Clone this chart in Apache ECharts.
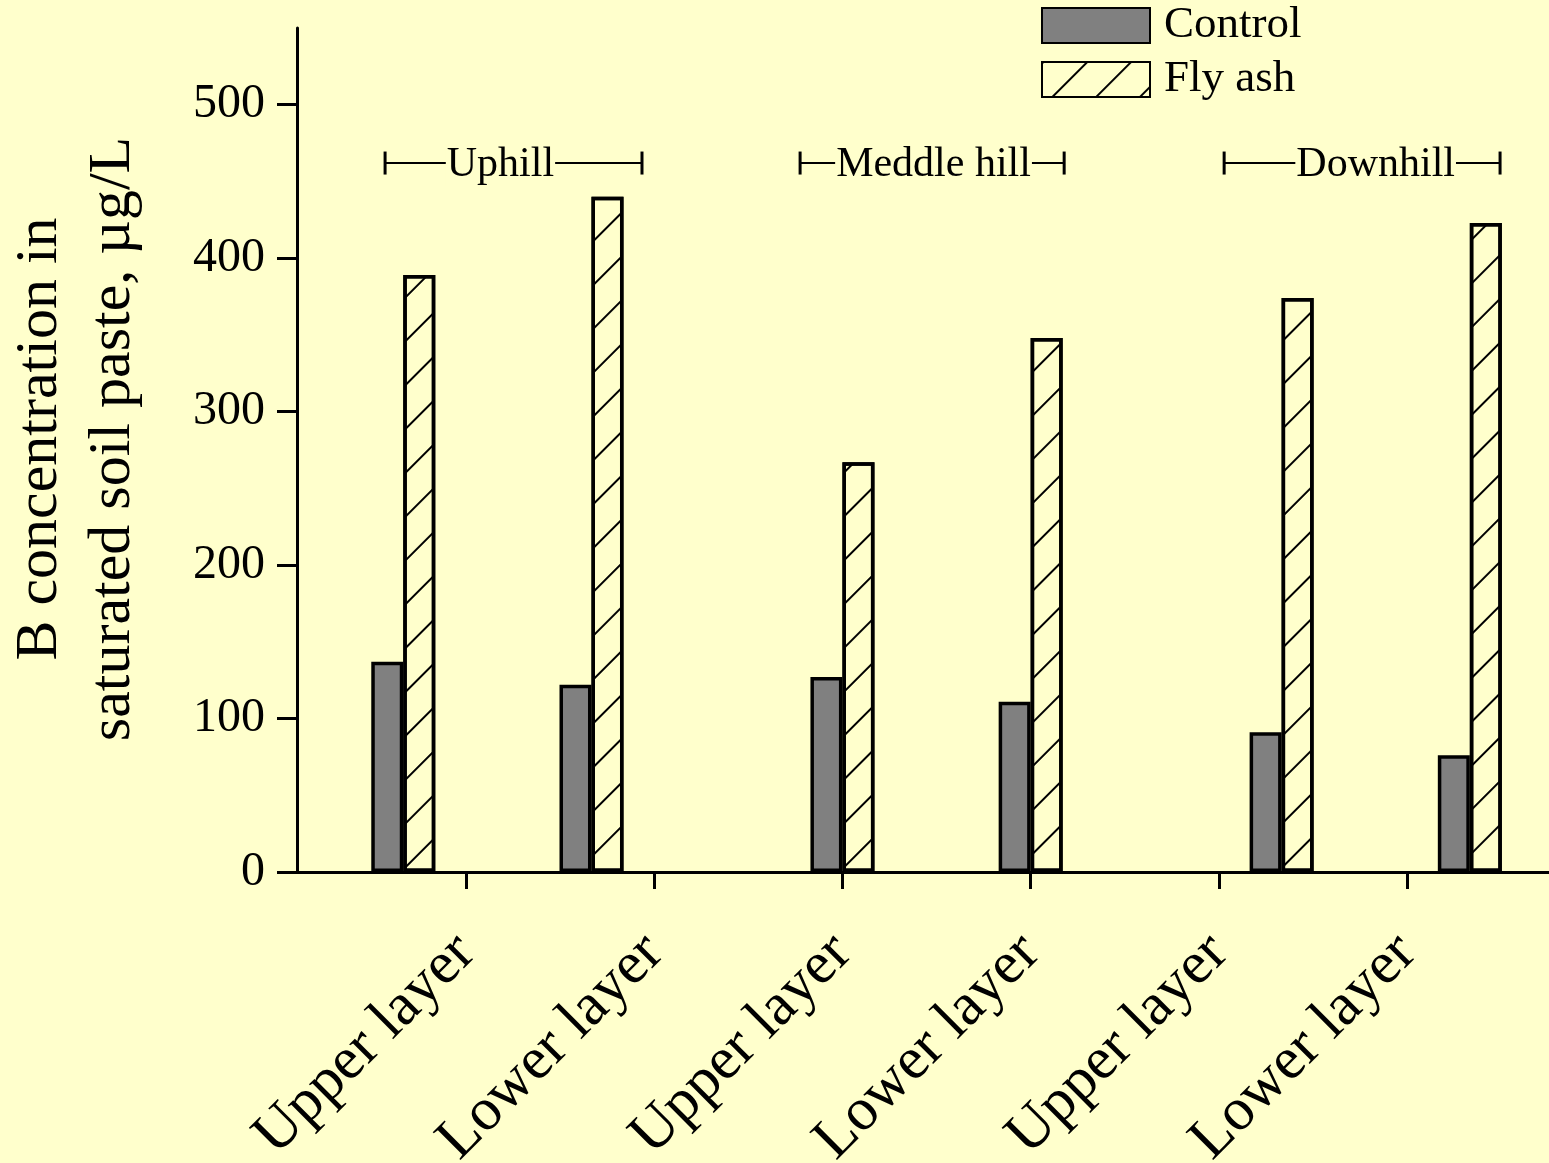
<!DOCTYPE html>
<html><head><meta charset="utf-8">
<script src="https://cdn.jsdelivr.net/npm/echarts@6/dist/echarts.min.js"></script>
<style>html,body{margin:0;padding:0;background:#FFFFCC}#c{width:1549px;height:1163px}</style>
</head><body><div id="c"></div>
<script>
// ---- data ----
const layerLabels = ['Upper layer', 'Lower layer', 'Upper layer', 'Lower layer', 'Upper layer', 'Lower layer'];
const layerTicks = [1, 2, 3, 4, 5, 6];
const hillNames = ['Uphill', 'Meddle hill', 'Downhill'];
const hillOffsets = [-1 / 3, 0, 1 / 3];
const controlValues = [137, 122, 127, 111, 91, 76];
const flyAshValues = [389, 440, 267, 348, 374, 423];
const yTicks = [0, 100, 200, 300, 400, 500];
const bracketStart = [0.570, 2.775, 5.028];
const bracketEnd = [1.935, 4.178, 6.494];
const bracketLabelX = [1.183, 3.484, 5.833];
const bracketY = 462;

const FONT = '"Liberation Serif", "Times New Roman", serif';
const BG = '#FFFFCC';
const barX = layerTicks.map((t, i) => t + hillOffsets[Math.floor(i / 2)]);

const chart = echarts.init(document.getElementById('c'));
chart.setOption({
  backgroundColor: BG,
  animation: false,
  grid: { left: 297, right: 0, top: 28, bottom: 291, outerBoundsMode: 'none', containLabel: false },
  legend: {
    orient: 'vertical', left: 1041, top: 3, padding: 0,
    itemWidth: 108, itemHeight: 35, itemGap: 9, icon: 'rect',
    data: ['Control', 'Fly ash'],
    textStyle: { fontSize: 45, fontFamily: FONT, color: '#000', padding: [0, 0, 0, 9] }
  },
  xAxis: {
    type: 'value', min: 0.102, max: 6.754,
    splitLine: { show: false },
    axisLine: { show: true, onZero: false, lineStyle: { color: '#000', width: 3 } },
    axisTick: { show: true, customValues: layerTicks, length: 17, lineStyle: { color: '#000', width: 3 } },
    axisLabel: {
      customValues: layerTicks,
      formatter: v => layerLabels[Math.round(v) - 1],
      rotate: 45, fontSize: 60, fontFamily: FONT, color: '#000', margin: 72
    }
  },
  yAxis: {
    type: 'value', min: 0, max: 550,
    splitLine: { show: false },
    axisLine: { show: true, lineStyle: { color: '#000', width: 3 } },
    axisTick: { show: true, customValues: yTicks, length: 20, lineStyle: { color: '#000', width: 3 } },
    axisLabel: { customValues: yTicks, fontSize: 48, fontFamily: FONT, color: '#000', margin: 32 },
    name: 'B concentration in\nsaturated soil paste, µg/L',
    nameLocation: 'middle', nameGap: 147, nameRotate: 90,
    nameTextStyle: { fontSize: 60, lineHeight: 73, fontFamily: FONT, color: '#000', padding: [0, 0, 0, 22] }
  },
  series: [
    {
      type: 'bar', name: 'Control', barWidth: 32, barGap: '0%',
      data: controlValues.map((v, i) => [barX[i], v]),
      itemStyle: { color: '#808080', borderColor: '#000', borderWidth: 3.5 }
    },
    {
      type: 'bar', name: 'Fly ash', barWidth: 32, barGap: '0%',
      data: flyAshValues.map((v, i) => [barX[i], v]),
      itemStyle: {
        color: BG, borderColor: '#000', borderWidth: 3.5,
        decal: { symbol: 'rect', symbolSize: 1, dashArrayX: [1, 0], dashArrayY: [2, 28.5], rotation: -Math.PI / 4, color: '#000' }
      }
    },
    {
      type: 'custom', silent: true, z: 5,
      data: hillNames.map((n, i) => [bracketStart[i], bracketEnd[i], bracketY, bracketLabelX[i], i]),
      encode: { x: [0, 1, 3], y: 2 },
      renderItem: function (params, api) {
        const p1 = api.coord([api.value(0), api.value(2)]);
        const p2 = api.coord([api.value(1), api.value(2)]);
        const pt = api.coord([api.value(3), api.value(2)]);
        const cap = 11.5;
        return {
          type: 'group', children: [
            { type: 'line', shape: { x1: p1[0], y1: p1[1], x2: p2[0], y2: p2[1] }, style: { stroke: '#000', lineWidth: 2 } },
            { type: 'line', shape: { x1: p1[0], y1: p1[1] - cap, x2: p1[0], y2: p1[1] + cap }, style: { stroke: '#000', lineWidth: 3 } },
            { type: 'line', shape: { x1: p2[0], y1: p2[1] - cap, x2: p2[0], y2: p2[1] + cap }, style: { stroke: '#000', lineWidth: 3 } },
            {
              type: 'text', x: pt[0], y: pt[1] + 2,
              style: {
                text: hillNames[api.value(4)], fontSize: 42, fontFamily: FONT, fill: '#000',
                align: 'center', verticalAlign: 'middle', backgroundColor: BG, padding: [0, 1]
              }
            }
          ]
        };
      }
    }
  ]
});
</script></body></html>
